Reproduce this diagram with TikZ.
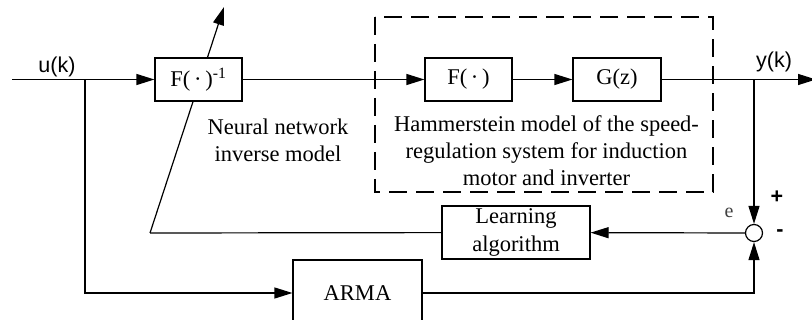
\documentclass[tikz,border=0pt]{standalone}
\usepackage{fontspec}
\setmainfont{Liberation Serif}
\setsansfont{Liberation Sans}
\usetikzlibrary{arrows.meta,backgrounds}
\tikzset{
  wire/.style={line width=1.2pt},
  arr/.style={wire,-{Triangle[length=18pt,width=11pt]}},
  blk/.style={draw,line width=1.2pt,fill=white,rectangle,inner sep=0pt,
    font=\fontsize{22.5}{27.5}\selectfont},
  lbl/.style={font=\fontsize{22.5}{27}\selectfont,align=center,inner sep=0pt},
  sig/.style={font=\sffamily\fontsize{21.5}{24}\selectfont,inner sep=0pt},
}
\begin{document}
\begin{tikzpicture}[x=1pt,y=-1pt]
\useasboundingbox (0,0) rectangle (812,320);
\clip (0,0) rectangle (812,320);

% blocks
\node[blk,minimum width=87pt,minimum height=43pt] (Finv) at (198.5,79.5) {F(\,·\,)\textsuperscript{-1}};
\node[blk,minimum width=87pt,minimum height=43pt] (F) at (468.5,79.5) {F(\,·\,)};
\node[blk,minimum width=88pt,minimum height=43pt] (G) at (617,79.5) {G(z)};
\node[blk,minimum width=148pt,minimum height=53pt,align=center] (Learn) at (516,232.5) {Learning\\algorithm};
\node[blk,minimum width=129pt,minimum height=66pt] (ARMA) at (357.5,293) {ARMA};
\node[draw,circle,line width=1.2pt,fill=white,minimum size=17pt,inner sep=0pt] (sum) at (754,233) {};

% helper points
\coordinate (uin) at (12,79.5);
\coordinate (ubr) at (85,79.5);
\coordinate (ybr) at (754,79.5);
\coordinate (yout) at (816,79.5);
\coordinate (corner) at (150,233);
\coordinate (tip) at (224,7);

% Hammerstein model frame
\draw[line width=1.2pt,dash pattern=on 18pt off 9pt] (375,17) rectangle (713,192);

% signal flow
\draw[arr] (uin) -- (Finv);
\draw[arr] (Finv) -- (F);
\draw[arr] (F) -- (G);
\draw[arr] (G) -- (yout);
\draw[arr] (ybr) -- (sum.north);
\draw[arr] (sum) -- (Learn);
\draw[wire] (Learn) -- (corner);
\draw[arr] (ubr) |- (ARMA);
\draw[arr] (ARMA) -| (sum.south);
\begin{pgfonlayer}{background}
\draw[arr] (corner) -- (tip);
\end{pgfonlayer}

% texts
\node[lbl] (nn) at (278,140) {Neural network\\inverse model};
\node[lbl] (hm) at (546.5,151) {Hammerstein model of the speed-\\regulation system for induction\\motor and inverter};
\node[sig] (u) at (57,67) {u(k)};
\node[sig] (y) at (774,62) {y(k)};
\node[sig,font=\sffamily\bfseries\fontsize{21.5}{24}\selectfont] (plus) at (777,197) {+};
\node[sig,font=\sffamily\bfseries\fontsize{21.5}{24}\selectfont] (minus) at (780,233) {-};
\node[font=\fontsize{20}{24}\selectfont,text=black!75,inner sep=0pt] (e) at (729,213) {e};
\end{tikzpicture}
\end{document}
